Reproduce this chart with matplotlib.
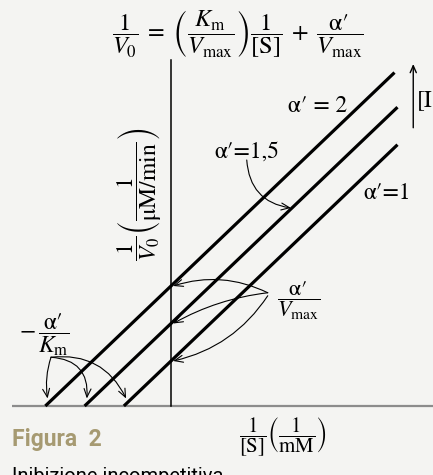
import numpy as np
import matplotlib.pyplot as plt

plt.rcParams['mathtext.fontset'] = 'stix'
plt.rcParams['font.family'] = 'STIXGeneral'

# Lineweaver-Burk plot, uncompetitive inhibition
alpha_vals = [1, 1.5, 2]
intercepts = [0.60, 1.10, 1.60]      # alpha'/Vmax
slope = 0.955                        # Km/Vmax
x_end = [3.02, 3.02, 2.98]

bg = '#f4f4f2'
fig = plt.figure(figsize=(4.33, 4.75), dpi=100, facecolor=bg)
ax = fig.add_axes([0, 0, 1, 1])
ax.set_facecolor(bg)
ax.set_xlim(-171 / 75, 262 / 75)
ax.set_ylim(-69 / 75, 406 / 75)
ax.axis('off')

# axes
ax.plot([-2.12, 3.5], [0, 0], color='#8c8c8c', lw=1.6, solid_capstyle='butt')
ax.plot([0, 0], [0, 4.61], color='black', lw=1.1)

# the three lines
for b, xe in zip(intercepts, x_end):
    x0 = -b / slope
    xs = np.array([x0, xe])
    ax.plot(xs, slope * xs + b, color='black', lw=2.3, solid_capstyle='butt')

mt = dict(ha='center', va='center', color='black')
ax.text(0.89, 4.95, r"$\dfrac{1}{V_0}\;=\;\left(\dfrac{K_\mathrm{m}}{V_\mathrm{max}}\right)\dfrac{1}{[\mathrm{S}]}\;+\;\dfrac{\mathrm{α′}}{V_\mathrm{max}}$",
        fontsize=17.5, **mt)
ax.text(1.96, 3.99, "α′ = 2", fontsize=17, **mt)
ax.text(1.01, 3.39, "α′=1,5", fontsize=17, **mt)
ax.text(2.88, 2.84, "α′=1", fontsize=17, **mt)
ax.text(3.28, 4.08, "[I", fontsize=17, ha='left', va='center')
ax.text(-0.42, 2.82, r"$\dfrac{1}{V_0}\left(\dfrac{1}{\mathrm{\mu M/min}}\right)$",
        fontsize=17, rotation=90, **mt)
ax.text(1.7, 1.41, r"$\dfrac{\mathrm{α′}}{V_\mathrm{max}}$", fontsize=16, **mt)
ax.text(-1.69, 0.95, r"$-\,\dfrac{\mathrm{α′}}{K_\mathrm{m}}$", fontsize=17, **mt)
ax.text(1.49, -0.41, r"$\dfrac{1}{[\mathrm{S}]}\left(\dfrac{1}{\mathrm{mM}}\right)$", fontsize=15, **mt)

ax.text(-2.12, -0.45, 'Figura  2', fontsize=16.5, fontweight='bold', family='Roboto',
        color='#a69a72', ha='left', va='center')
ax.text(-2.12, -0.81, 'Inibizione incompetitiva', fontsize=14.5, family='Roboto',
        color='black', ha='left', va='top')

# [I] increasing
ax.annotate('', xy=(3.23, 4.56), xytext=(3.23, 3.71),
            arrowprops=dict(arrowstyle='->,head_length=0.5,head_width=0.22',
                            lw=1.0, color='black', shrinkA=0, shrinkB=0),
            annotation_clip=False)

def curved(start, end, rad):
    ax.annotate('', xy=end, xytext=start,
                arrowprops=dict(arrowstyle='->,head_length=0.6,head_width=0.25',
                                connectionstyle='arc3,rad=%s' % rad,
                                lw=0.8, color='black', shrinkA=0, shrinkB=0))

curved((1.01, 3.28), (1.6, 2.64), 0.4)

# alpha'/Vmax -> y intercepts
start_v = (1.29, 1.51)
curved(start_v, (0.03, intercepts[2]), 0.2)
curved(start_v, (0.03, intercepts[1]), 0.1)
curved((1.29, 1.47), (0.03, intercepts[0]), -0.2)

# -alpha'/Km -> x intercepts
start_k = (-1.6, 0.65)
for b, rad in zip(intercepts[::-1], [0.12, -0.5, -0.35]):
    curved(start_k, (-b / slope + 0.03, 0.1), rad)

fig.savefig('out.png', dpi=100, facecolor=bg)
